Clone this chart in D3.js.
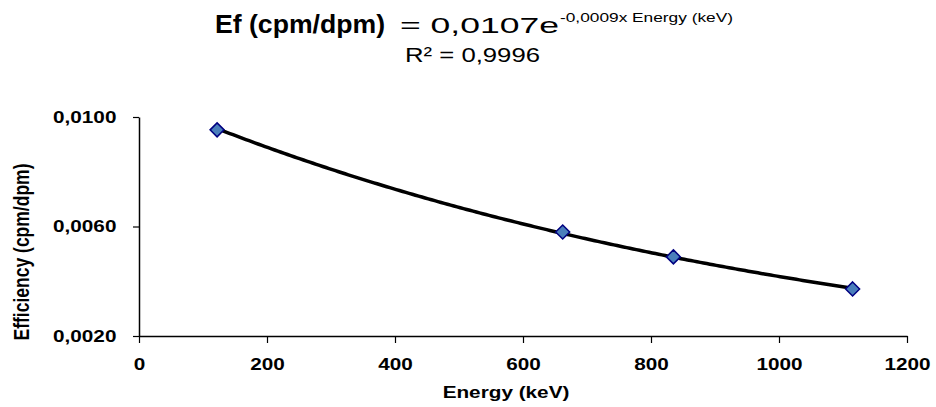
<!DOCTYPE html>
<html>
<head>
<meta charset="utf-8">
<script src="https://cdn.jsdelivr.net/npm/d3@7"></script>
<style>
  body { margin: 0; background: #fff; }
  text { font-family: "Liberation Sans", Arial, sans-serif; }
</style>
</head>
<body>
<svg id="chart"></svg>
<script>
// measured points
var energy = [122, 662, 835, 1115];
var efficiency = [0.00953, 0.00580, 0.00489, 0.00372];
var xTicks = [0, 200, 400, 600, 800, 1000, 1200];
var yTicks = [0.0020, 0.0060, 0.0100];

var svgWidth = 936, svgHeight = 407;
var margin = { top: 117, right: 29, bottom: 71, left: 139 };
var width = svgWidth - margin.left - margin.right;
var height = svgHeight - margin.top - margin.bottom;
var stretch = 1.22; // reference text is drawn wide

var svg = d3.select("#chart")
    .attr("width", svgWidth)
    .attr("height", svgHeight);

var g = svg.append("g")
    .attr("transform", "translate(" + margin.left + "," + margin.top + ")");

var x = d3.scaleLinear().domain([0, 1200]).range([0, width]);
var y = d3.scaleLinear().domain([0.002, 0.010]).range([height, 0]);

// exponential trendline, least squares on ln(y) like Excel does
var n = energy.length;
var lny = efficiency.map(function(d) { return Math.log(d); });
var mx = d3.mean(energy), my = d3.mean(lny);
var sxy = 0, sxx = 0;
for (var i = 0; i < n; i++) {
  sxy += (energy[i] - mx) * (lny[i] - my);
  sxx += (energy[i] - mx) * (energy[i] - mx);
}
var b = sxy / sxx;
var a = Math.exp(my - b * mx);

var trend = d3.range(energy[0], energy[n - 1] + 1, 5).map(function(e) {
  return { e: e, v: a * Math.exp(b * e) };
});

var line = d3.line()
    .x(function(d) { return x(d.e); })
    .y(function(d) { return y(d.v); });

g.append("path")
    .datum(trend)
    .attr("fill", "none")
    .attr("stroke", "#000")
    .attr("stroke-width", 3.5)
    .attr("stroke-linejoin", "round")
    .attr("d", line);

// markers
g.selectAll(".pt")
    .data(energy)
    .enter().append("path")
    .attr("class", "pt")
    .attr("transform", function(d, i) { return "translate(" + x(d) + "," + y(efficiency[i]) + ")"; })
    .attr("d", "M0,-7L7,0L0,7L-7,0Z")
    .attr("fill", "#4a7ebb")
    .attr("stroke", "#000080")
    .attr("stroke-width", 1.5);

// axes
var xAxis = g.append("g")
    .attr("transform", "translate(0," + height + ")")
    .call(d3.axisBottom(x).tickValues(xTicks).tickSize(7).tickSizeOuter(0).tickPadding(16)
      .tickFormat(d3.format("d")));
var yAxis = g.append("g")
    .call(d3.axisLeft(y).tickValues(yTicks).tickSize(6).tickSizeOuter(0).tickPadding(12.5)
      .tickFormat(function(d) { return d3.format(".4f")(d).replace(".", ","); }));

[xAxis, yAxis].forEach(function(ax) {
  ax.select(".domain").attr("stroke", "#000").attr("stroke-width", 1.5);
  ax.selectAll(".tick line").attr("stroke", "#000").attr("stroke-width", 1.2);
  ax.selectAll("text")
    .attr("fill", "#000")
    .attr("transform", "scale(" + stretch + ",1)")
    .style("font-size", "17px")
    .style("font-weight", "bold");
});
xAxis.selectAll("text").attr("dy", "0.65em");

// axis titles
svg.append("text")
    .attr("transform", "translate(506,398) scale(" + stretch + ",1)")
    .attr("text-anchor", "middle")
    .style("font-size", "17px").style("font-weight", "bold")
    .text("Energy (keV)");

svg.append("text")
    .attr("transform", "translate(29,252) scale(" + stretch + ",1) rotate(-90)")
    .attr("text-anchor", "middle")
    .style("font-size", "17.5px").style("font-weight", "bold")
    .text("Efficiency (cpm/dpm)");

// trendline equation as title
svg.append("text")
    .attr("x", 215).attr("y", 33)
    .attr("textLength", 170).attr("lengthAdjust", "spacingAndGlyphs")
    .style("font-size", "26px").style("font-weight", "bold")
    .text("Ef (cpm/dpm)");
svg.append("text")
    .attr("x", 400).attr("y", 33)
    .attr("textLength", 159).attr("lengthAdjust", "spacingAndGlyphs")
    .style("font-size", "22px")
    .text("= 0,0107e");
svg.append("text")
    .attr("x", 560).attr("y", 22)
    .attr("textLength", 173).attr("lengthAdjust", "spacingAndGlyphs")
    .style("font-size", "13px")
    .text("-0,0009x Energy (keV)");
svg.append("text")
    .attr("x", 405).attr("y", 62)
    .attr("textLength", 135).attr("lengthAdjust", "spacingAndGlyphs")
    .style("font-size", "21px")
    .text("R\u00b2 = 0,9996");
</script>
</body>
</html>
